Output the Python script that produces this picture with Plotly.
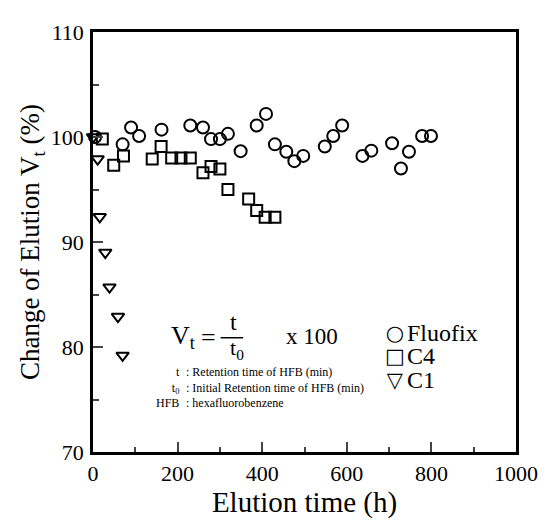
import plotly.graph_objects as go

# Fluofix column
fluofix_x = [5, 70, 90, 109, 162, 230, 260, 279, 300, 319, 349, 387, 409, 430, 457, 476, 497,
             548, 568, 589, 637, 658, 707, 728, 747, 778, 799]
fluofix_y = [100.0, 99.3, 100.9, 100.1, 100.7, 101.1, 100.9, 99.8, 99.8, 100.3, 98.65, 101.1, 102.2,
             99.3, 98.6, 97.7, 98.2, 99.1, 100.1, 101.1, 98.2, 98.7, 99.4, 97.0, 98.6, 100.1, 100.1]

# C4 column
c4_x = [22, 49, 72, 140, 161, 186, 208, 230, 260, 279, 300, 319, 368, 387, 407, 430]
c4_y = [99.8, 97.3, 98.2, 97.9, 99.1, 98.0, 98.0, 98.0, 96.6, 97.2, 96.95, 95.0, 94.1, 93.0, 92.35, 92.35]

# C1 column
c1_x = [0, 11, 16, 29, 39, 59, 70]
c1_y = [100.0, 97.9, 92.4, 89.0, 85.7, 82.9, 79.2]

legend_names = ["Fluofix", "C4", "C1"]
legend_glyphs = ["\u25cb", "\u25a1", "\u25bd"]

def_terms = ["t", "t<sub>0</sub>", "HFB"]
def_texts = [": Retention time of HFB (min)", ": Initial Retention time of HFB (min)", ": hexafluorobenzene"]

serif = "Liberation Serif"

fig = go.Figure()
fig.add_trace(go.Scatter(x=fluofix_x, y=fluofix_y, mode="markers", name="Fluofix", cliponaxis=False,
                         marker=dict(symbol="circle-open", size=12, color="black", line=dict(width=2, color="black"))))
fig.add_trace(go.Scatter(x=c4_x, y=c4_y, mode="markers", name="C4", cliponaxis=False,
                         marker=dict(symbol="square-open", size=11, color="black", line=dict(width=2, color="black"))))
fig.add_trace(go.Scatter(x=c1_x, y=c1_y, mode="markers", name="C1", cliponaxis=False,
                         marker=dict(symbol="triangle-down-open", size=11, color="black", line=dict(width=2, color="black"))))

# page has an 8px body margin, so plot area runs x 93-524, y 22-452 in the window
def px2paper(px, py):
    return (px - 93) / 431, (452 - py) / 430

anns = []
def add_text(text, px, py, size, xanchor="center", family=serif, align="center"):
    x, y = px2paper(px, py)
    anns.append(dict(text=text, x=x, y=y, xref="paper", yref="paper", xanchor=xanchor, yanchor="middle",
                     align=align, showarrow=False, font=dict(family=family, size=size, color="black")))

# formula
add_text("V<sub>t</sub>", 199, 334, 26, "right")
add_text("=", 211, 335, 26)
add_text("t", 236, 319, 24)
add_text("t<sub>0</sub>", 240, 347, 22)
add_text("x 100", 288, 334, 23, "left")

# definitions: two aligned text columns
add_text("<br>".join(def_terms), 184, 386, 12, "right", align="right")
add_text("<br>".join(def_texts), 186, 386, 12, "left", align="left")

# legend, drawn as two text columns (small base size keeps the rows tight)
add_text("<br>".join('<span style="font-size:21px">%s</span>' % g for g in legend_glyphs),
         401, 354, 18, "center", "DejaVu Sans")
add_text("<br>".join('<span style="font-size:24px">%s</span>' % n for n in legend_names),
         411, 354, 18, "left", align="left")

x0, y0 = px2paper(223, 335)
x1, _ = px2paper(246, 335)

fig.update_layout(
    width=542, height=516,
    margin=dict(l=85, r=26, t=14, b=72),
    plot_bgcolor="white", paper_bgcolor="white",
    font=dict(family=serif, size=22, color="black"),
    annotations=anns,
    showlegend=False,
    shapes=[dict(type="line", xref="paper", yref="paper", x0=x0, x1=x1, y0=y0, y1=y0,
                 line=dict(color="black", width=1.5))],
)
fig.update_xaxes(range=[0, 1000], dtick=200, ticks="inside", ticklen=10, tickwidth=1.5,
                 showline=True, linewidth=2.5, linecolor="black", mirror=True, showgrid=False,
                 zeroline=False, minor=dict(dtick=100, ticks="inside", ticklen=5, tickwidth=1.5),
                 title=dict(text="Elution time (h)", font=dict(size=29), standoff=6))
fig.update_yaxes(range=[70, 110], dtick=10, ticks="inside", ticklen=10, tickwidth=1.5,
                 showline=True, linewidth=2.5, linecolor="black", mirror=True, showgrid=False,
                 zeroline=False, minor=dict(dtick=5, ticks="inside", ticklen=6, tickwidth=1.5),
                 ticklabelstandoff=2,
                 title=dict(text="Change of Elution V<sub>t</sub> (%)", font=dict(size=27), standoff=4))

fig.write_html("out.html")
